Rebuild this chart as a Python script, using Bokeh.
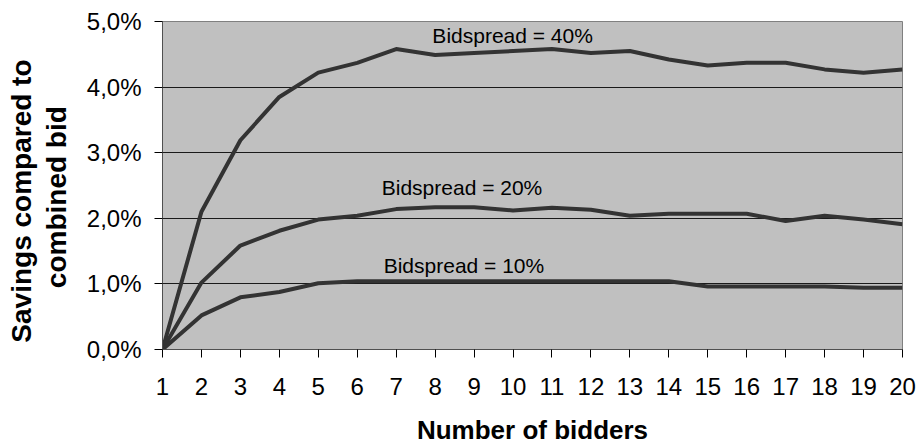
from bokeh.plotting import figure
from bokeh.models import Range1d, FixedTicker, CustomJSTickFormatter, Label
from bokeh.embed import file_html
from bokeh.resources import INLINE

# ---- data ----
bidders = list(range(1, 21))
spread40 = [0, 2.10, 3.19, 3.85, 4.22, 4.37, 4.58, 4.49, 4.52, 4.55,
            4.58, 4.52, 4.55, 4.42, 4.33, 4.37, 4.37, 4.27, 4.22, 4.27]
spread20 = [0, 1.02, 1.585, 1.81, 1.98, 2.04, 2.14, 2.17, 2.17, 2.12,
            2.16, 2.13, 2.04, 2.07, 2.07, 2.07, 1.96, 2.04, 1.98, 1.91]
spread10 = [0, 0.52, 0.795, 0.877, 1.01, 1.04, 1.04, 1.04, 1.04, 1.04,
            1.04, 1.04, 1.04, 1.04, 0.96, 0.96, 0.96, 0.96, 0.94, 0.94]
series_names = ["Bidspread = 40%", "Bidspread = 20%", "Bidspread = 10%"]
y_ticks = [0, 1, 2, 3, 4, 5]
y_tick_labels = ["0,0%", "1,0%", "2,0%", "3,0%", "4,0%", "5,0%"]
x_title = "Number of bidders"
y_title_lines = ["Savings compared to", "combined bid"]

FONT = "Liberation Sans"
NB = "\u00a0"

p = figure(width=920, height=447, output_backend="svg", toolbar_location=None,
           x_range=Range1d(1, 20), y_range=Range1d(0, 5),
           min_border_left=162, min_border_right=18,
           min_border_top=21, min_border_bottom=97)

p.background_fill_color = "#C0C0C0"
p.border_fill_color = "white"
p.outline_line_color = "#808080"
p.outline_line_width = 1

for ys in (spread40, spread20, spread10):
    p.line(bidders, ys, line_color="#333333", line_width=4, line_join="round")

# axes
p.xaxis.ticker = FixedTicker(ticks=bidders)
p.yaxis.ticker = FixedTicker(ticks=y_ticks)
p.yaxis.formatter = CustomJSTickFormatter(args=dict(labels=y_tick_labels),
                                          code="return labels[Math.round(tick)];")
for ax in (p.xaxis, p.yaxis):
    ax.axis_line_color = "#505050"
    ax.axis_line_width = 1
    ax.major_tick_in = 0
    ax.major_tick_out = 8
    ax.major_tick_line_color = "black"
    ax.minor_tick_line_color = None
    ax.major_label_text_font = FONT
    ax.major_label_text_font_size = "24px"
    ax.major_label_text_color = "black"
    ax.axis_label_text_font = FONT
    ax.axis_label_text_font_style = "bold"
    ax.axis_label_text_color = "black"
p.xaxis.major_label_standoff = 20
p.yaxis.major_label_standoff = 13

p.xaxis.axis_label = x_title
p.xaxis.axis_label_text_font_size = "26px"
p.xaxis.axis_label_standoff = 17
# trailing no-break spaces shift the centred title toward the bottom, as in the reference
p.yaxis.axis_label = (y_title_lines[0] + NB * 4) + "\n" + (y_title_lines[1] + NB * 3)
p.yaxis.axis_label_text_font_size = "28px"
p.yaxis.axis_label_text_line_height = 1.12
p.yaxis.axis_label_standoff = 12

p.xgrid.grid_line_color = None
p.ygrid.ticker = FixedTicker(ticks=y_ticks)
p.ygrid.grid_line_color = "#1a1a1a"
p.ygrid.grid_line_width = 1

# series annotations
ann_pos = [(9.99, 4.78), (8.69, 2.47), (8.74, 1.28)]
for name, (ax_, ay_) in zip(series_names, ann_pos):
    p.add_layout(Label(x=ax_, y=ay_, text=name, text_font=FONT,
                       text_font_size="21px", text_color="black",
                       text_align="center", text_baseline="middle"))

open("out.html", "w").write(file_html(p, INLINE))
